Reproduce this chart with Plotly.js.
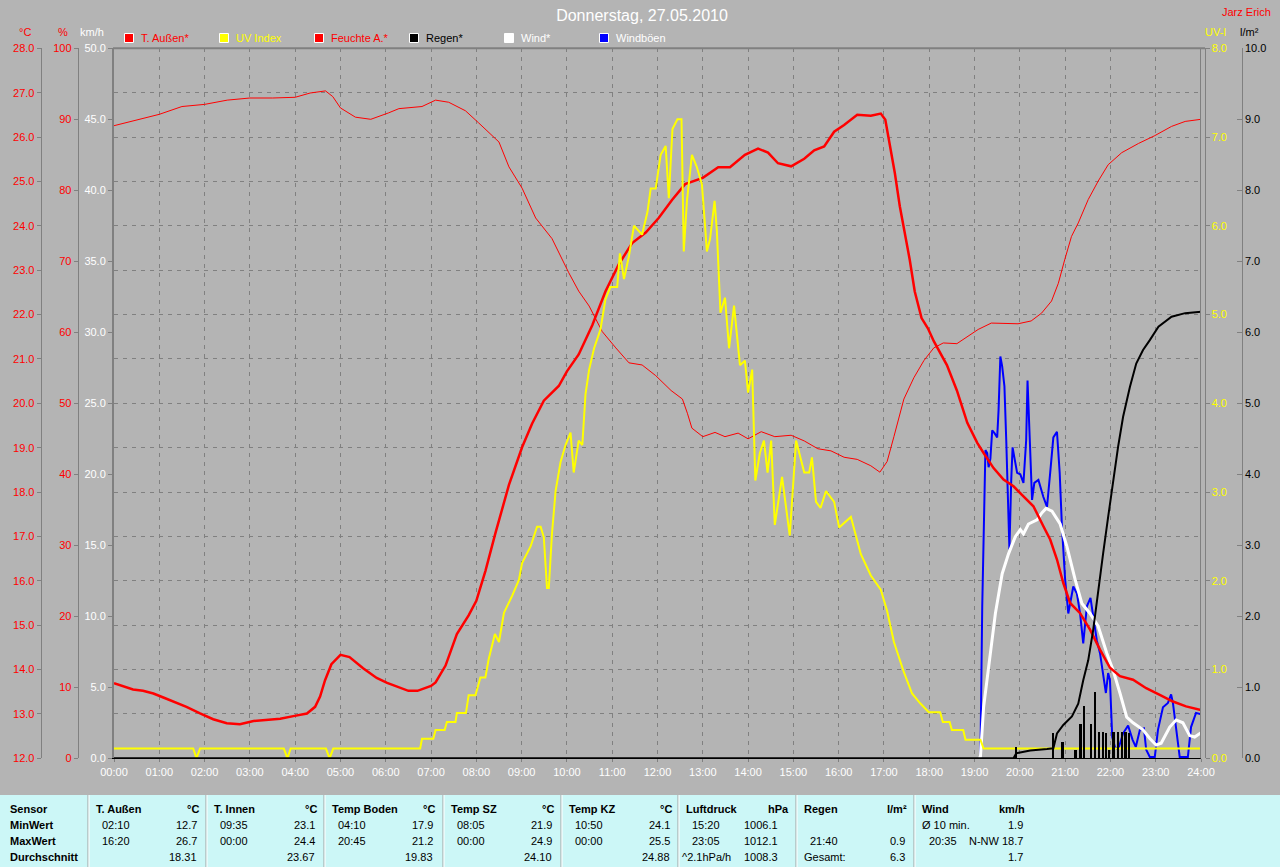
<!DOCTYPE html>
<html><head><meta charset="utf-8">
<script src="https://cdn.plot.ly/plotly-3.0.1.min.js"></script>
<style>html,body{margin:0;padding:0;background:#b4b4b4;overflow:hidden}#chart{width:1280px;height:867px}</style>
</head><body><div id="chart"></div>
<script>
// ---------------- DATA ----------------
const hourLabels = ["00:00","01:00","02:00","03:00","04:00","05:00","06:00","07:00","08:00","09:00","10:00","11:00","12:00","13:00","14:00","15:00","16:00","17:00","18:00","19:00","20:00","21:00","22:00","23:00","24:00"];

// T. Außen (°C), time in hours
const tAussenTime = [0,0.2,0.42,0.64,0.87,1.09,1.31,1.6,1.9,2.19,2.49,2.78,3.08,3.37,3.67,3.96,4.26,4.44,4.55,4.66,4.8,5.0,5.2,5.5,5.8,6.03,6.32,6.5,6.7,7.0,7.1,7.32,7.57,7.83,8.0,8.2,8.42,8.72,9.01,9.23,9.49,9.82,10.0,10.26,10.56,10.85,11.15,11.44,11.74,12.03,12.32,12.61,13.0,13.34,13.6,13.93,14.22,14.44,14.66,14.95,15.24,15.46,15.68,15.9,16.12,16.41,16.71,16.93,17.03,17.12,17.24,17.35,17.46,17.57,17.68,17.83,17.97,18.1,18.39,18.61,18.84,19.06,19.2,19.42,19.64,19.86,20.08,20.3,20.52,20.67,20.82,20.96,21.11,21.33,21.55,21.77,21.99,22.21,22.5,22.79,23.09,23.38,23.67,24.0];
const tAussen = [13.69,13.63,13.55,13.52,13.46,13.37,13.28,13.16,13.01,12.88,12.79,12.77,12.84,12.86,12.89,12.95,13.01,13.16,13.39,13.76,14.12,14.33,14.28,14.03,13.81,13.70,13.58,13.52,13.52,13.63,13.71,14.09,14.80,15.22,15.55,16.22,17.07,18.16,19.01,19.54,20.06,20.39,20.72,21.10,21.76,22.52,23.14,23.61,23.85,24.18,24.58,24.94,25.08,25.32,25.32,25.60,25.74,25.65,25.41,25.34,25.51,25.70,25.79,26.12,26.27,26.50,26.48,26.53,26.39,25.86,25.19,24.44,23.84,23.23,22.52,21.92,21.69,21.40,20.86,20.29,19.56,19.11,18.88,18.54,18.28,18.13,17.90,17.68,17.23,16.93,16.48,15.95,15.50,15.27,14.90,14.45,14.04,13.85,13.77,13.58,13.43,13.28,13.17,13.09];

// Feuchte A. (%)
const feuchteTime = [0,0.5,1,1.5,2,2.5,3,3.5,4,4.33,4.67,4.83,5,5.33,5.67,6.06,6.29,6.8,7.1,7.39,7.76,8.05,8.5,8.72,9.01,9.31,9.67,10.04,10.26,10.49,10.78,11.08,11.37,11.66,11.96,12.3,12.55,12.66,12.76,13.0,13.27,13.49,13.78,14.0,14.29,14.59,14.95,15.24,15.54,15.83,16.12,16.41,16.71,16.91,17.07,17.22,17.44,17.66,17.88,18.1,18.31,18.61,18.78,19.08,19.37,19.96,20.25,20.48,20.7,20.85,20.99,21.14,21.29,21.51,21.73,21.95,22.25,22.62,22.98,23.35,23.65,24];
const feuchte = [89.1,89.9,90.7,91.8,92.1,92.7,93.0,93.0,93.1,93.7,94.0,93.2,91.6,90.3,90.0,90.9,91.5,91.8,92.7,92.4,91.2,89.5,86.8,83.3,80.3,76.1,73.2,68.4,65.8,63.7,60.1,57.8,55.7,55.4,53.9,51.8,50.6,48.6,46.5,45.3,45.9,45.3,45.8,45.0,46.0,45.3,45.5,44.7,43.6,43.3,42.4,42.1,41.2,40.3,41.8,45.3,50.6,53.6,56.0,57.8,58.5,58.4,59.1,60.4,61.3,61.2,61.6,62.7,64.4,66.9,70.2,73.5,75.4,78.7,81.3,83.6,85.3,86.6,87.7,89.0,89.7,90.0];

// UV Index
const uvTime = [0,1.75,1.82,1.9,3.75,3.83,3.9,4.68,4.76,4.84,6.76,6.8,7.05,7.1,7.3,7.35,7.54,7.57,7.77,7.83,7.98,8.09,8.2,8.27,8.41,8.5,8.61,8.79,8.94,9.01,9.2,9.34,9.42,9.49,9.56,9.6,9.67,9.75,9.86,9.97,10.08,10.15,10.26,10.34,10.41,10.49,10.6,10.74,10.85,10.96,11.11,11.17,11.26,11.37,11.48,11.66,11.78,11.85,11.96,12.07,12.18,12.25,12.33,12.44,12.53,12.58,12.65,12.76,12.87,12.98,13.05,13.09,13.16,13.26,13.31,13.39,13.49,13.58,13.69,13.82,13.93,14.0,14.09,14.16,14.26,14.35,14.43,14.51,14.59,14.75,14.92,15.06,15.24,15.35,15.41,15.5,15.6,15.72,15.9,16.01,16.27,16.49,16.71,16.93,17.07,17.22,17.44,17.62,17.8,17.99,18.24,18.3,18.45,18.5,18.75,18.8,19.13,19.2,24];
const uv = [0.11,0.11,0,0.11,0.11,0,0.11,0.11,0,0.11,0.11,0.22,0.22,0.32,0.32,0.41,0.41,0.51,0.51,0.71,0.71,0.91,0.91,1.11,1.40,1.31,1.64,1.83,2.01,2.20,2.39,2.61,2.61,2.49,1.92,1.92,2.53,3.01,3.34,3.53,3.67,3.22,3.58,3.53,4.10,4.38,4.62,4.83,5.17,5.31,5.31,5.69,5.40,5.66,6.00,5.90,6.16,6.42,6.42,6.80,6.90,6.31,7.09,7.20,7.20,5.71,6.28,6.80,6.66,6.47,6.00,5.71,5.85,6.28,5.95,5.02,5.19,4.62,5.10,4.43,4.48,4.12,4.38,3.13,3.44,3.58,3.22,3.58,2.63,3.17,2.51,3.58,3.22,3.22,3.39,2.89,2.82,3.01,2.89,2.60,2.72,2.30,2.06,1.90,1.66,1.31,0.97,0.73,0.62,0.52,0.52,0.41,0.41,0.32,0.32,0.21,0.21,0.11,0.11];

// Wind* (km/h)
const windTime = [19.1,19.13,19.2,19.31,19.46,19.61,19.75,19.9,20.01,20.08,20.19,20.38,20.49,20.58,20.71,20.89,21.04,21.22,21.37,21.55,21.73,21.92,22.06,22.21,22.36,22.5,22.72,22.87,23.01,23.12,23.31,23.45,23.6,23.75,23.86,24];
const wind = [0,0.1,3.6,6.45,10.2,13.0,14.4,15.6,16.1,15.8,16.5,16.8,17.3,17.6,17.4,16.5,14.9,12.6,10.9,10.2,9.3,7.4,6.2,4.6,2.9,2.5,2.0,1.4,0.94,1.06,2.2,2.7,2.5,1.6,1.5,1.8];

// Windböen (km/h)
const gustTime = [19.1,19.13,19.17,19.2,19.24,19.28,19.31,19.35,19.39,19.44,19.5,19.53,19.57,19.61,19.66,19.7,19.74,19.77,19.81,19.84,19.89,19.94,20.01,20.08,20.14,20.17,20.22,20.27,20.32,20.41,20.52,20.6,20.67,20.74,20.82,20.88,20.93,21.0,21.07,21.12,21.18,21.26,21.33,21.4,21.48,21.56,21.62,21.7,21.77,21.84,21.9,21.95,21.99,22.04,22.1,22.17,22.28,22.39,22.49,22.56,22.65,22.74,22.79,22.87,22.98,23.05,23.16,23.27,23.34,23.38,23.45,23.53,23.71,23.78,23.89,24];
const gust = [0,0.1,10.7,16.3,21.7,21.5,20.5,21.1,23.1,22.9,22.6,24.5,28.3,27.6,26.2,22.4,17.3,14.7,19.6,21.9,21.0,20.1,20.0,19.4,22.4,26.6,22.4,18.2,19.4,19.6,18.4,17.7,20.1,22.6,23.0,20.1,16.3,12.6,10.2,11.1,12.1,11.6,10.2,8.1,10.7,11.3,10.0,8.3,7.4,6.0,4.6,6.0,5.5,1.5,0.8,0.6,1.76,2.3,1.3,0.8,2.0,2.1,0.6,0.1,0.1,2.0,3.6,3.9,4.5,3.9,2.2,0.1,0.1,2.2,3.2,3.1];

// Regen* cumulative (l/m²)
const regenSumTime = [0,19.86,19.92,20.23,20.6,20.74,20.82,20.96,21.15,21.29,21.4,21.51,21.62,21.73,21.84,21.95,22.06,22.17,22.28,22.43,22.57,22.72,22.87,23.06,23.35,23.65,24];
const regenSum = [0,0,0.07,0.11,0.13,0.14,0.35,0.47,0.59,0.77,1.10,1.38,1.81,2.37,2.89,3.40,3.92,4.39,4.81,5.23,5.56,5.75,5.89,6.08,6.22,6.27,6.29];

// Regen per interval (l/m²)
const regenTime = [19.92,20.74,20.94,21.23,21.34,21.42,21.57,21.66,21.75,21.83,21.9,21.97,22.07,22.16,22.25,22.33,22.41];
const regen = [0.16,0.36,0.23,0.12,0.49,0.73,0.49,0.93,0.37,0.37,0.35,0.12,0.37,0.37,0.37,0.37,0.35];

// Legend
const legendNames = ["T. Außen*","UV Index","Feuchte A.*","Regen*","Wind*","Windböen"];
const legendFill  = ["#ff0000","#ffff00","#ff0000","#000000","#ffffff","#0000ff"];
const legendText  = ["#ff0000","#ffff00","#ff0000","#000000","#ffffff","#ffffff"];

// Table
const rowLabels = ["Sensor","MinWert","MaxWert","Durchschnitt"];
const tableSensors = ["T. Außen","T. Innen","Temp Boden","Temp SZ","Temp KZ","Luftdruck","Regen","Wind"];
const tableUnits   = ["°C","°C","°C","°C","°C","hPa","l/m²","km/h"];
const minTimes  = ["02:10","09:35","04:10","08:05","10:50","15:20","","Ø 10 min."];
const minValues = ["12.7","23.1","17.9","21.9","24.1","1006.1","","1.9"];
const maxTimes  = ["16:20","00:00","20:45","00:00","00:00","23:05","21:40","20:35"];
const maxValues = ["26.7","24.4","21.2","24.9","25.5","1012.1","0.9","N-NW 18.7"];
const avgLabels = ["","","","","","^2.1hPa/h","Gesamt:",""];
const avgValues = ["18.31","23.67","19.83","24.10","24.88","1008.3","6.3","1.7"];

// ---------------- LAYOUT ----------------
const FONT = "Liberation Sans, Arial, sans-serif";
const BG = "#b4b4b4";
const AX = "#808080";
const W = 1280, H = 867;
const px = v => v / W;
const py = v => 1 - v / H;
const X0 = 114, X1 = 1201, YT = 48.3, YB = 758.3;

const traces = [
  {x: gustTime, y: gust, yaxis: "y", type: "scatter", mode: "lines", line: {color: "#0000ff", width: 2}, name: legendNames[5]},
  {x: windTime, y: wind, yaxis: "y", type: "scatter", mode: "lines", line: {color: "#ffffff", width: 3}, name: legendNames[4]},
  {x: tAussenTime, y: tAussen, yaxis: "y2", type: "scatter", mode: "lines", line: {color: "#ff0000", width: 2.5}, name: legendNames[0]},
  {x: feuchteTime, y: feuchte, yaxis: "y3", type: "scatter", mode: "lines", line: {color: "#ff0000", width: 1}, name: legendNames[2]},
  {x: uvTime, y: uv, yaxis: "y4", type: "scatter", mode: "lines", line: {color: "#ffff00", width: 2}, name: legendNames[1]},
  {x: regenTime, y: regen, yaxis: "y5", type: "bar", width: 0.05, marker: {color: "#000000", line: {width: 0}}, name: "Regen"},
  {x: regenSumTime, y: regenSum, yaxis: "y5", type: "scatter", mode: "lines", line: {color: "#000000", width: 2}, name: legendNames[3]}
];

const tickF = c => ({family: FONT, size: 11, color: c});
const yDomain = [py(YB), py(YT)];
function yax(extra) {
  return Object.assign({
    showgrid: false, zeroline: false, showline: true, linecolor: AX, linewidth: 1,
    ticks: "outside", ticklen: 4, tickcolor: AX, tickwidth: 1, fixedrange: true
  }, extra);
}

const shapes = [];
const annotations = [];
function ann(text, x, y, color, xanchor, opts) {
  annotations.push(Object.assign({text: text, x: px(x), y: py(y), xref: "paper", yref: "paper",
    xanchor: xanchor || "center", yanchor: "middle", showarrow: false,
    font: {family: FONT, size: 11, color: color}}, opts || {}));
}

// frame
shapes.push({type: "line", xref: "paper", yref: "paper", x0: px(X0 - 1), x1: px(1205), y0: py(YT), y1: py(YT), line: {color: AX, width: 2}});
shapes.push({type: "line", xref: "paper", yref: "paper", x0: px(X1 - 0.5), x1: px(X1 - 0.5), y0: py(YT), y1: py(YB), line: {color: AX, width: 1}});

// axis titles
ann("°C", 25, 32, "#ff0000");
ann("%", 63, 32, "#ff0000");
ann("km/h", 92, 32, "#ffffff");
ann("UV-I", 1215, 32, "#ffff00");
ann("l/m²", 1249, 32, "#000000");
ann("Jarz Erich", 1273, 12, "#ff0000", "right");

// legend
const legendX = [124.5, 219.5, 314.5, 409.5, 504.5, 599.5];
legendNames.forEach((n, i) => {
  const x = legendX[i];
  shapes.push({type: "rect", xref: "paper", yref: "paper", x0: px(x), x1: px(x + 9), y0: py(42.5), y1: py(33.5),
    fillcolor: legendFill[i], line: {color: "#ffffff", width: 1}});
  ann(n, x + 14, 38, legendText[i], "left");
});

// table
const TBL_TOP = 795;
shapes.push({type: "rect", xref: "paper", yref: "paper", x0: 0, x1: 1, y0: 0, y1: py(TBL_TOP), fillcolor: "#ccf7f7", line: {width: 0}, layer: "below"});
const seps = [88, 206, 324, 443, 561, 678, 796, 914];
seps.forEach(s => {
  shapes.push({type: "line", xref: "paper", yref: "paper", x0: px(s), x1: px(s), y0: 0, y1: py(TBL_TOP), line: {color: "#a0a0a0", width: 1}});
  shapes.push({type: "line", xref: "paper", yref: "paper", x0: px(s + 1), x1: px(s + 1), y0: 0, y1: py(TBL_TOP), line: {color: "#ffffff", width: 1}});
});
const rowY = [809, 824.5, 841, 857];
rowLabels.forEach((r, i) => ann("<b>" + r + "</b>", 8, rowY[i], "#000000", "left"));
tableSensors.forEach((s, i) => {
  const a = seps[i], e = a + 118;
  const valR = (i === 5) ? e - 16 : e - 7;
  ann("<b>" + s + "</b>", a + 6, rowY[0], "#000000", "left");
  ann("<b>" + tableUnits[i] + "</b>", e - 5, rowY[0], "#000000", "right");
  const tOff = (i === 7) ? 6 : 12;
  if (minTimes[i]) ann(minTimes[i], a + tOff, rowY[1], "#000000", "left");
  if (minValues[i]) ann(minValues[i], valR, rowY[1], "#000000", "right");
  if (maxTimes[i]) ann(maxTimes[i], a + (i === 7 ? 13 : 12), rowY[2], "#000000", "left");
  if (maxValues[i]) ann(maxValues[i], valR, rowY[2], "#000000", "right");
  if (avgLabels[i]) ann(avgLabels[i], a + (i === 5 ? 2 : 6), rowY[3], "#000000", "left");
  if (avgValues[i]) ann(avgValues[i], valR, rowY[3], "#000000", "right");
});

const layout = {
  width: W, height: H,
  margin: {l: 0, r: 0, t: 0, b: 0, pad: 0},
  paper_bgcolor: BG, plot_bgcolor: BG,
  showlegend: false,
  font: {family: FONT, size: 11, color: "#ffffff"},
  title: {text: "Donnerstag, 27.05.2010", x: px(642), xanchor: "center", xref: "container",
    y: py(15), yanchor: "middle", yref: "container", font: {family: FONT, size: 16, color: "#ffffff"}},
  xaxis: {
    domain: [px(X0), px(X1)], range: [0, 24], fixedrange: true,
    tickmode: "array", tickvals: hourLabels.map((_, i) => i), ticktext: hourLabels,
    tickfont: tickF("#ffffff"), ticks: "outside", ticklen: 3, tickcolor: AX,
    showgrid: true, gridcolor: AX, gridwidth: 1, griddash: "4px,5px",
    showline: true, linecolor: "#000000", linewidth: 1, zeroline: false
  },
  yaxis: yax({domain: yDomain, range: [0, 50], dtick: 5, tick0: 0, tickformat: ".1f",
    tickfont: tickF("#ffffff"), linewidth: 2, anchor: "x", side: "left"}),
  yaxis2: yax({overlaying: "y", anchor: "free", position: px(40.7), side: "left",
    range: [12, 28], dtick: 1, tick0: 12, tickformat: ".1f", tickfont: tickF("#ff0000"),
    showgrid: true, gridcolor: AX, gridwidth: 1, griddash: "4px,5px"}),
  yaxis3: yax({overlaying: "y", anchor: "free", position: px(77.7), side: "left",
    range: [0, 100], dtick: 10, tick0: 0, tickformat: "d", tickfont: tickF("#ff0000")}),
  yaxis4: yax({overlaying: "y", anchor: "free", position: px(1204.5), side: "right",
    range: [0, 8], dtick: 1, tick0: 0, tickformat: ".1f", tickfont: tickF("#ffff00")}),
  yaxis5: yax({overlaying: "y", anchor: "free", position: px(1241.7), side: "right",
    range: [0, 10], dtick: 1, tick0: 0, tickformat: ".1f", tickfont: tickF("#000000"),
    ticks: "inside", ticklen: 5}),
  bargap: 0,
  shapes: shapes,
  annotations: annotations
};

Plotly.newPlot("chart", traces, layout, {displayModeBar: false, staticPlot: true});
</script>
</body></html>
